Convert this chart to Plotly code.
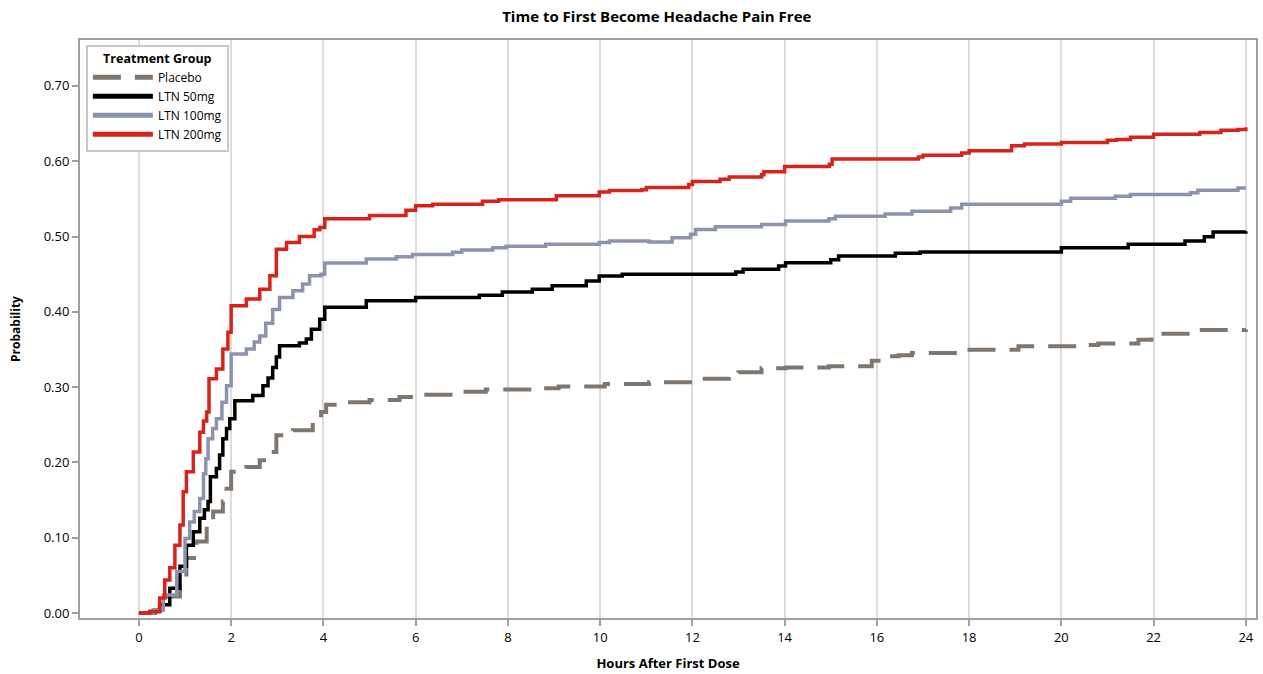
import plotly.graph_objects as go

# ---- data ----
placebo_t = [0, 0.35, 0.6, 0.89, 1.03, 1.25, 1.47, 1.61, 1.82, 1.9, 2.0, 2.33, 2.62, 2.84, 2.98, 3.34, 3.77, 3.95,
             4.06, 4.42, 5.0, 5.65, 6.23, 7.0, 7.52, 8.53, 9.1, 10.1, 11.06, 12.0, 12.79, 13.0, 13.5, 14.02, 14.96,
             15.89, 16.1, 16.47, 16.76, 17.9, 19.07, 20.37, 20.8, 21.67, 21.95, 22.1, 22.8, 24.0]
placebo_p = [0, 0.004, 0.022, 0.0375, 0.073, 0.095, 0.117, 0.135, 0.148, 0.165, 0.1875, 0.194, 0.203, 0.214, 0.236,
             0.2426, 0.2527, 0.267, 0.2766, 0.280, 0.283, 0.2868, 0.290, 0.294, 0.297, 0.2985, 0.301, 0.304, 0.3066,
             0.311, 0.3163, 0.3198, 0.325, 0.326, 0.3276, 0.3352, 0.341, 0.3425, 0.3454, 0.3498, 0.3542, 0.356, 0.358,
             0.363, 0.369, 0.371, 0.376, 0.377]

ltn50_t = [0, 0.24, 0.45, 0.67, 0.89, 1.03, 1.18, 1.32, 1.42, 1.5, 1.55, 1.68, 1.75, 1.82, 1.9, 1.97, 2.08, 2.47,
           2.69, 2.8, 2.9, 2.98, 3.05, 3.48, 3.63, 3.74, 3.92, 4.03, 4.93, 6.0, 7.38, 7.88, 8.53, 8.96, 9.7, 9.98,
           10.48, 12.94, 13.1, 13.87, 14.02, 15.0, 15.17, 16.4, 16.94, 20.0, 21.45, 22.68, 23.1, 23.29, 24.0]
ltn50_p = [0, 0.002, 0.011, 0.033, 0.062, 0.09, 0.108, 0.126, 0.137, 0.148, 0.181, 0.192, 0.21, 0.2316, 0.245,
           0.258, 0.282, 0.289, 0.302, 0.312, 0.326, 0.34, 0.355, 0.3586, 0.364, 0.377, 0.390, 0.406, 0.4146, 0.419,
           0.422, 0.4265, 0.43, 0.4345, 0.441, 0.4477, 0.45, 0.453, 0.4565, 0.461, 0.4653, 0.469, 0.474, 0.4777,
           0.4795, 0.485, 0.4896, 0.494, 0.4998, 0.506, 0.507]

ltn100_t = [0, 0.31, 0.53, 0.82, 1.0, 1.1, 1.2, 1.32, 1.4, 1.45, 1.5, 1.6, 1.68, 1.8, 1.9, 2.0, 2.33, 2.5, 2.62,
            2.75, 2.9, 3.05, 3.34, 3.55, 3.7, 3.95, 4.03, 4.93, 5.58, 5.93, 6.8, 7.0, 7.67, 7.96, 8.82, 9.98, 10.2,
            11.06, 11.56, 11.96, 12.07, 12.5, 13.5, 14.02, 14.96, 15.1, 16.18, 16.76, 17.6, 17.84, 20.0, 20.2, 21.17,
            21.5, 22.8, 22.96, 23.83, 24.0]
ltn100_p = [0, 0.004, 0.024, 0.055, 0.099, 0.121, 0.135, 0.152, 0.185, 0.205, 0.2316, 0.245, 0.258, 0.28, 0.302,
            0.344, 0.3507, 0.36, 0.368, 0.385, 0.403, 0.419, 0.428, 0.437, 0.448, 0.45, 0.465, 0.47, 0.473, 0.476,
            0.479, 0.482, 0.485, 0.487, 0.4896, 0.492, 0.494, 0.4927, 0.4984, 0.503, 0.5095, 0.513, 0.516, 0.5205,
            0.5236, 0.527, 0.530, 0.5337, 0.538, 0.543, 0.547, 0.551, 0.5536, 0.5558, 0.558, 0.5615, 0.5646, 0.5646]

ltn200_t = [0, 0.24, 0.45, 0.56, 0.67, 0.78, 0.89, 0.96, 1.03, 1.18, 1.32, 1.4, 1.47, 1.52, 1.68, 1.82, 1.93, 2.0,
            2.33, 2.62, 2.84, 2.98, 3.2, 3.48, 3.8, 3.92, 4.03, 5.0, 5.79, 6.0, 6.37, 7.45, 7.8, 9.05, 9.98, 10.2,
            10.9, 11.0, 11.92, 12.0, 12.6, 12.8, 13.5, 13.55, 14.0, 14.97, 15.03, 16.9, 17.0, 17.84, 18.0, 18.92,
            19.2, 20.0, 21.0, 21.2, 21.5, 22.0, 23.0, 23.46, 23.83, 24.0]
ltn200_p = [0, 0.002, 0.02, 0.044, 0.06, 0.09, 0.117, 0.161, 0.1875, 0.214, 0.24, 0.255, 0.267, 0.311, 0.324,
            0.3507, 0.373, 0.408, 0.417, 0.43, 0.448, 0.483, 0.492, 0.50, 0.509, 0.512, 0.5236, 0.528, 0.535, 0.541,
            0.543, 0.547, 0.549, 0.554, 0.559, 0.561, 0.562, 0.565, 0.569, 0.573, 0.576, 0.579, 0.582, 0.586, 0.593,
            0.596, 0.603, 0.6055, 0.608, 0.611, 0.614, 0.6206, 0.623, 0.625, 0.628, 0.629, 0.632, 0.6357, 0.638,
            0.641, 0.642, 0.645]

x_ticks = [0, 2, 4, 6, 8, 10, 12, 14, 16, 18, 20, 22, 24]
y_ticks = [0.0, 0.1, 0.2, 0.3, 0.4, 0.5, 0.6, 0.7]
y_labels = ["0.00", "0.10", "0.20", "0.30", "0.40", "0.50", "0.60", "0.70"]

series = [
    ("Placebo", placebo_t, placebo_p, "#7f776f", 4, "28px,14px"),
    ("LTN 50mg", ltn50_t, ltn50_p, "#000000", 3.5, "solid"),
    ("LTN 100mg", ltn100_t, ltn100_p, "#8d92ae", 3.5, "solid"),
    ("LTN 200mg", ltn200_t, ltn200_p, "#d8231b", 3.5, "solid"),
]

fig = go.Figure()
for name, t, p, color, w, dash in series:
    fig.add_trace(go.Scatter(x=t, y=p, mode="lines", name=name,
                             line=dict(color=color, width=w, dash=dash, shape="hv")))

FONT = "Open Sans"
fig.update_layout(
    width=1263, height=674,
    margin=dict(l=80, r=5, t=40, b=54),
    paper_bgcolor="white", plot_bgcolor="white",
    font=dict(family=FONT, size=12, color="#000000"),
    title=dict(text="<b>Time to First Become Headache Pain Free</b>", x=0.52, xanchor="center",
               y=0.975, yanchor="middle", font=dict(family=FONT, size=15)),
    showlegend=True,
    legend=dict(x=0.005, y=0.992, xanchor="left", yanchor="top",
                bgcolor="white", bordercolor="#c8c8c8", borderwidth=2,
                title=dict(text="<b>Treatment Group</b>", side="top center", font=dict(size=12.5)),
                font=dict(size=12), tracegroupgap=0, itemwidth=60,
                itemsizing="constant"),
)
fig.update_xaxes(
    range=[-1.277, 24.22], tickvals=x_ticks, ticktext=[str(v) for v in x_ticks],
    showgrid=True, gridcolor="#dcdcdc", gridwidth=2, zeroline=False,
    showline=True, linecolor="#a0a0a0", linewidth=2, mirror=True,
    ticks="outside", ticklen=6, tickcolor="#a0a0a0", tickwidth=2,
    title=dict(text="<b>Hours After First Dose</b>", font=dict(size=13), standoff=14),
    tickfont=dict(size=13),
)
fig.update_yaxes(
    range=[-0.0066, 0.761], tickvals=y_ticks, ticktext=y_labels,
    showgrid=False, zeroline=False,
    showline=True, linecolor="#a0a0a0", linewidth=2, mirror=True,
    ticks="outside", ticklen=6, tickcolor="#a0a0a0", tickwidth=2,
    title=dict(text="<b>Probability</b>", font=dict(size=12), standoff=20),
    tickfont=dict(size=13),
)

fig.write_html("out.html", config={"displayModeBar": False},
               post_script="document.body.style.margin='0';")
